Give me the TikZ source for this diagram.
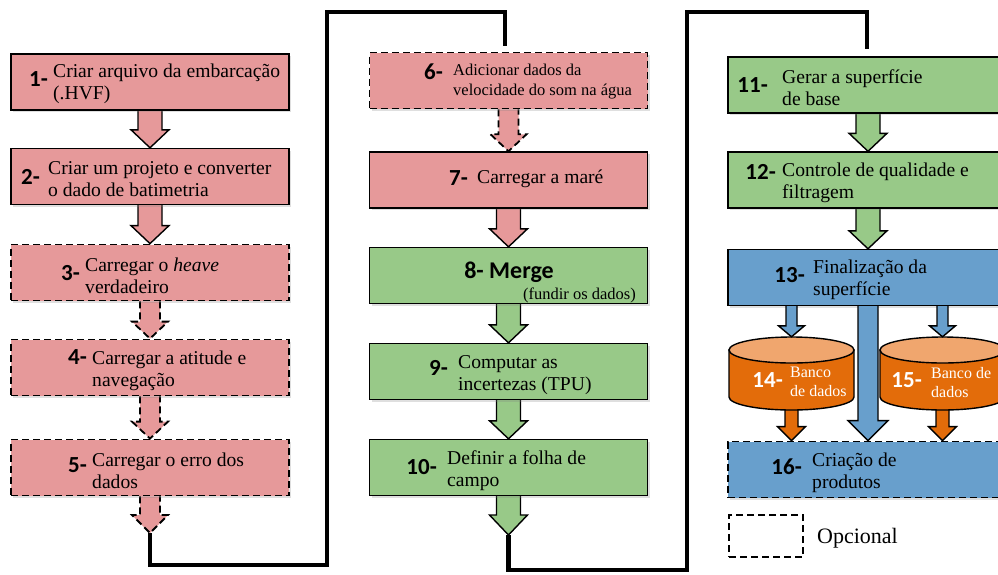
\documentclass[tikz,border=0pt]{standalone}
\usepackage{fontspec}
\setmainfont{Liberation Serif}
\newfontfamily\labfont{Carlito}
\usetikzlibrary{calc,shadows,backgrounds}
\definecolor{pinkc}{RGB}{230,153,154}
\definecolor{greenc}{RGB}{152,201,136}
\definecolor{bluec}{RGB}{104,159,204}
\definecolor{orangec}{RGB}{227,108,10}
\definecolor{lorangec}{RGB}{240,166,110}
\newcommand{\barrow}[6]{%
  \path[#3] let \p1=#1, \p2=#2 in
   (\x1-#4pt,\y1) -- (\x1-#4pt,\y2+#6pt) -- (\x1-#5pt,\y2+#6pt) -- (\x1,\y2)
   -- (\x1+#5pt,\y2+#6pt) -- (\x1+#4pt,\y2+#6pt) -- (\x1+#4pt,\y1);}
\tikzset{
  box/.style={draw=black, line width=1.4pt, inner sep=0pt, minimum width=278pt,
    minimum height=56pt, drop shadow={opacity=0.25, shadow xshift=2pt, shadow yshift=-2pt}},
  optl/.style={dash pattern=on 7pt off 4pt, line width=1.8pt},
  pinkbox/.style={box, fill=pinkc},
  greenbox/.style={box, fill=greenc},
  bluebox/.style={box, fill=bluec},
  arr/.style={draw=black, line width=1.4pt, line join=miter},
  conn/.style={draw=black, line width=4.5pt, line join=miter},
  txt/.style={inner sep=0pt, align=left, font=\fontsize{19.6}{22}\selectfont},
  stxt/.style={inner sep=0pt, align=left, font=\fontsize{16.5}{20}\selectfont},
  num/.style={inner sep=0pt, font=\labfont\bfseries\fontsize{23}{25}\selectfont},
}
\begin{document}
\begin{tikzpicture}[x=1pt,y=-1pt]
\useasboundingbox (0,0) rectangle (998,574);
\clip (0,0) rectangle (998,574);
% ---- left column
\node[pinkbox] (b1) at (150,82) {};
\node[pinkbox] (b2) at (150,176.5) {};
\node[pinkbox, optl] (b3) at (150,272.5) {};
\node[pinkbox, optl] (b4) at (150,367.5) {};
\node[pinkbox, optl] (b5) at (150,467.5) {};
\node[num, anchor=east] (n1) at (48,79) {1-};
\node[txt, anchor=west] (t1) at (53,84) {Criar arquivo da embarcação\\(.HVF)};
\node[num, anchor=east] (n2) at (40,177) {2-};
\node[txt, anchor=west] (t2) at (48,179) {Criar um projeto e converter\\o dado de batimetria};
\node[num, anchor=east] (n3) at (80,273) {3-};
\node[txt, anchor=west] (t3) at (85,276) {Carregar o \textit{heave}\\verdadeiro};
\node[num, anchor=east] (n4) at (87,357) {4-};
\node[txt, anchor=west] (t4) at (92,371) {Carregar a atitude e\\navegação};
\node[num, anchor=east] (n5) at (87,465) {5-};
\node[txt, anchor=west] (t5) at (92,471) {Carregar o erro dos\\dados};
% ---- middle column
\node[pinkbox, optl] (b6) at (508.5,80.5) {};
\node[pinkbox] (b7) at (508.5,180) {};
\node[greenbox] (b8) at (508.5,275.5) {};
\node[greenbox] (b9) at (508.5,371.5) {};
\node[greenbox] (b10) at (508.5,467.5) {};
\node[num, anchor=east] (n6) at (443,72) {6-};
\node[stxt, anchor=west] (t6) at (453,82) {Adicionar dados da\\velocidade do som na água};
\node[num, anchor=east] (n7) at (468,178) {7-};
\node[txt, anchor=west] (t7) at (477,179) {Carregar a maré};
\node[inner sep=0pt, font=\labfont\bfseries\fontsize{24}{26}\selectfont] (n8) at (509,272) {8- Merge};
\node[stxt, anchor=east] (t8) at (636,295) {(fundir os dados)};
\node[num, anchor=east] (n9) at (448,368) {9-};
\node[txt, anchor=west] (t9) at (458,375) {Computar as\\incertezas (TPU)};
\node[num, anchor=east] (n10) at (437,467) {10-};
\node[txt, anchor=west] (t10) at (447,471) {Definir a folha de\\campo};
% ---- right column
\node[greenbox, minimum width=280pt] (b11) at (868,85) {};
\node[greenbox, minimum width=280pt] (b12) at (868,180) {};
\node[bluebox, minimum width=280pt] (b13) at (868,277.5) {};
\node[bluebox, optl, minimum width=280pt] (b16) at (868,469.5) {};
\node[num, anchor=east] (n11) at (768,85) {11-};
\node[txt, anchor=west] (t11) at (782,88) {Gerar a superfície\\de base};
\node[num, anchor=east] (n12) at (776,172) {12-};
\node[txt, anchor=west] (t12) at (782,183) {Controle de qualidade e\\filtragem};
\node[num, anchor=east] (n13) at (805,275) {13-};
\node[txt, anchor=west] (t13) at (813,280) {Finalização da\\superfície};
\node[num, anchor=east] (n16) at (802,467) {16-};
\node[txt, anchor=west] (t16) at (812,473) {Criação de\\produtos};
% ---- cylinders
\foreach \cx/\nm in {791.5/d14, 942.5/d15}{
  \path[fill=orangec, draw=black, line width=1.4pt]
    (\cx-62.5,350) -- (\cx-62.5,397)
    arc[start angle=180, end angle=360, x radius=62.5pt, y radius=13pt]
    -- (\cx+62.5,350) -- cycle;
  \path[fill=lorangec, draw=black, line width=1.4pt] (\cx,350) ellipse [x radius=62.5pt, y radius=13pt];
  \node[inner sep=0pt, minimum width=125pt, minimum height=73pt] (\nm) at (\cx,373.5) {};
}
\node[num, white, anchor=east] (n14) at (783,380) {14-};
\node[inner sep=0pt, align=left, white, font=\fontsize{16}{19}\selectfont, anchor=west] (t14) at (790,382) {Banco\\de dados};
\node[num, white, anchor=east] (n15) at (922,380) {15-};
\node[inner sep=0pt, align=left, white, font=\fontsize{16}{19}\selectfont, anchor=west] (t15) at (931,383) {Banco de\\dados};
% ---- blue arrows from 13
\barrow{(b13.south -| d14.center)}{(d14.north)}{arr, fill=bluec}{5.5}{13}{11}
\barrow{(b13.south -| d15.center)}{(d15.north)}{arr, fill=bluec}{5.5}{13}{11}
\barrow{(b13.south)}{(b16.north)}{arr, fill=bluec}{10}{20}{20}
% ---- legend
\node[draw=black, optl, minimum width=74pt, minimum height=42pt] (leg) at (766,536) {};
\node[inner sep=0pt, font=\fontsize{22}{24}\selectfont, anchor=west] (legt) at (817,538) {Opcional};
% ---- connectors
\coordinate (c5) at (150,533);
\coordinate (e6) at (505,46);
\coordinate (c10) at (508.5,535);
\coordinate (e11) at (867,49);
\draw[conn] (c5) -- (150,565) -- (327,565) -- (327,12) -- (505,12) -- (e6);
\draw[conn] (c10) -- (508.5,570) -- (687,570) -- (687,12) -- (867,12) -- (e11);
\begin{scope}[on background layer]
  \fill[white] (0,0) rectangle (998,574);
  \barrow{(b1.south)}{(b2.north)}{arr, fill=pinkc}{12}{19}{18}
  \barrow{(b2.south)}{(b3.north)}{arr, fill=pinkc}{12}{19}{18}
  \barrow{(b3.south)}{(b4.north)}{arr, optl, fill=pinkc}{10}{18}{17}
  \barrow{(b4.south)}{(b5.north)}{arr, optl, fill=pinkc}{10}{18}{17}
  \barrow{(b5.south)}{(c5)}{arr, optl, fill=pinkc}{10}{18}{18}
  \barrow{(b6.south)}{(b7.north)}{arr, optl, fill=pinkc}{10}{18}{17}
  \barrow{(b7.south)}{(b8.north)}{arr, fill=pinkc}{12}{19}{18}
  \barrow{(b8.south)}{(b9.north)}{arr, fill=greenc}{12}{19}{18}
  \barrow{(b9.south)}{(b10.north)}{arr, fill=greenc}{12}{19}{18}
  \barrow{(b10.south)}{(c10)}{arr, fill=greenc}{12}{19}{20}
  \barrow{(b11.south)}{(b12.north)}{arr, fill=greenc}{12}{19}{18}
  \barrow{(b12.south)}{(b13.north)}{arr, fill=greenc}{12}{19}{18}
  \barrow{(d14.south)}{(b16.north -| d14.center)}{arr, fill=orangec}{6.5}{14}{14}
  \barrow{(d15.south)}{(b16.north -| d15.center)}{arr, fill=orangec}{6.5}{14}{14}
\end{scope}
\end{tikzpicture}
\end{document}
